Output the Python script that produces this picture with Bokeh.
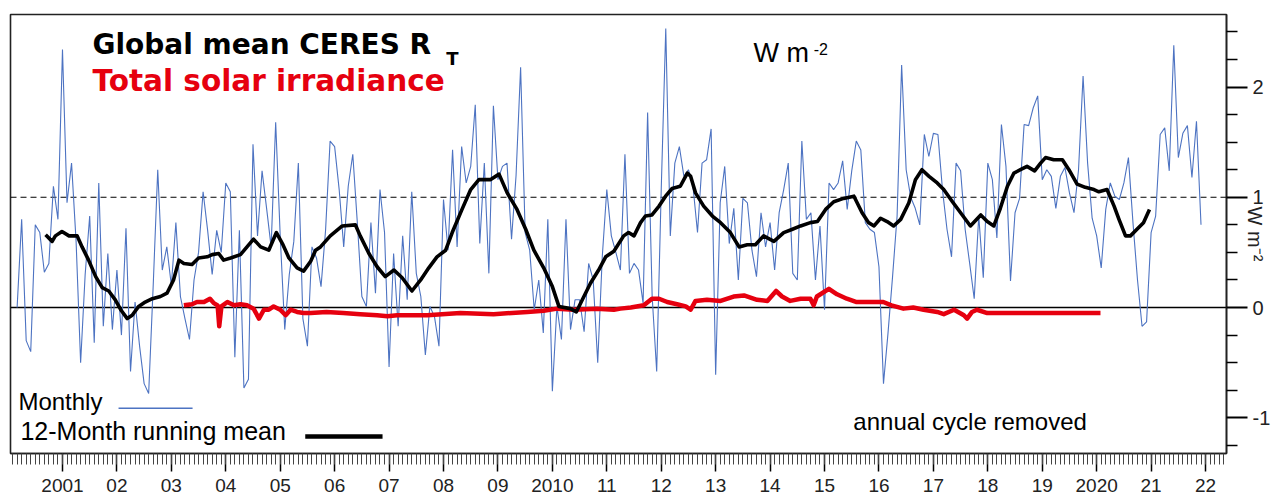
from bokeh.plotting import figure
from bokeh.models import Range1d, FixedTicker, Span, Label
from bokeh.embed import file_html
from bokeh.resources import INLINE

# ---------------- data ----------------
# Monthly global-mean CERES net radiation anomaly, Mar 2000 .. Dec 2021 (W m-2)
monthly = [
    0.00, 0.80, -0.30, -0.40, 0.75, 0.68, 0.32, 0.40, 1.10, 0.80,
    2.34, 0.95, 1.31, 0.60, -0.50, 0.30, 0.83, -0.32, 1.13, -0.17,
    0.49, -0.20, 0.34, -0.25, 0.72, -0.58, 0.05, -0.35, -0.69, -0.78,
    0.20, 1.25, 0.34, 0.55, 0.20, 0.77, 0.10, -0.10, -0.29, 0.25,
    0.50, 1.05, 0.70, 0.30, 0.70, 0.50, 1.13, 1.05, -0.45, 0.70,
    -0.73, -0.65, 1.48, 0.65, 1.24, 0.90, 0.55, 1.68, 0.65, -0.20,
    0.30, 0.60, 1.31, -0.10, -0.35, 0.55, 0.45, 0.19, 0.70, 1.51,
    1.46, 1.07, 0.55, 1.10, 1.39, 0.77, 0.10, 0.01, 0.77, 0.13,
    1.07, 0.68, -0.54, 0.49, -0.17, 0.65, 0.07, 1.05, 0.31, 0.10,
    -0.43, 0.01, -0.08, -0.35, 0.98, 0.52, 1.43, 0.55, 1.46, 1.13,
    1.28, 1.84, 0.58, 1.31, 0.31, 1.83, 1.16, 1.28, 1.31, 0.62,
    1.20, 2.18, 0.68, 0.52, -0.02, 0.25, -0.23, 0.80, -0.76, 0.01,
    -0.29, 0.80, -0.20, 0.07, 0.07, -0.22, 0.40, 0.25, -0.50, 0.46,
    1.07, 0.65, 0.50, 0.34, 1.39, 0.31, 0.40, 0.34, 0.04, 1.77,
    0.10, -0.58, 1.07, 2.53, 0.65, 1.31, 1.46, 1.19, 1.25, 1.10,
    0.68, 1.31, 1.34, 1.62, -0.61, 0.95, 1.28, 0.58, 0.90, 0.25,
    0.99, 0.95, 0.52, 0.28, 0.86, 0.55, 0.77, 0.34, 0.86, 1.07,
    1.31, 0.31, 0.25, 1.51, 0.80, 0.86, 0.25, 0.74, -0.02, 1.13,
    1.07, 1.13, 1.33, 0.89, 1.24, 1.51, 1.43, 0.77, 0.71, 0.68,
    0.37, -0.69, -0.23, 0.28, 0.83, 2.20, 1.25, 1.00, 0.90, 0.75,
    1.57, 1.37, 1.58, 1.57, 1.07, 0.71, 0.46, 1.31, 1.24, 0.71,
    0.40, 0.08, 0.83, 0.27, 1.31, 1.16, 0.63, 1.66, 1.28, 0.24,
    0.86, 0.99, 1.66, 1.65, 1.81, 1.92, 1.16, 1.25, 1.19, 0.90,
    1.19, 1.27, 1.04, 0.86, 1.25, 2.10, 1.31, 0.81, 0.65, 0.36,
    0.89, 1.13, 1.01, 0.98, 1.13, 1.36, 0.77, 0.25, -0.17, -0.13,
    0.68, 0.83, 1.57, 1.63, 1.24, 2.38, 1.36, 1.58, 1.65, 1.18,
    1.69, 0.75,
]
first_year, first_month = 2000, 3
months = [first_year + (first_month - 1 + i) / 12 for i in range(len(monthly))]

# 12-month running mean (decimal year, W m-2)
rm_years = [
    2000.69, 2000.81, 2000.87, 2000.99, 2001.12, 2001.27, 2001.36, 2001.48, 2001.61, 2001.73,
    2001.85, 2001.97, 2002.07, 2002.19, 2002.28, 2002.40, 2002.52, 2002.65, 2002.80, 2002.92,
    2003.04, 2003.14, 2003.23, 2003.38, 2003.50, 2003.66, 2003.75, 2003.87, 2003.96, 2004.09,
    2004.27, 2004.39, 2004.51, 2004.64, 2004.79, 2004.93, 2005.04, 2005.16, 2005.31, 2005.43,
    2005.56, 2005.65, 2005.74, 2005.92, 2006.14, 2006.38, 2006.47, 2006.63, 2006.78, 2006.93,
    2007.09, 2007.24, 2007.42, 2007.58, 2007.73, 2007.88, 2008.04, 2008.16, 2008.34, 2008.50,
    2008.65, 2008.86, 2009.02, 2009.17, 2009.35, 2009.51, 2009.66, 2009.84, 2010.00, 2010.12,
    2010.33, 2010.44, 2010.55, 2010.70, 2010.85, 2010.98, 2011.13, 2011.31, 2011.40, 2011.50,
    2011.62, 2011.71, 2011.83, 2011.96, 2012.08, 2012.20, 2012.35, 2012.48, 2012.54, 2012.63,
    2012.78, 2012.94, 2013.09, 2013.27, 2013.43, 2013.58, 2013.73, 2013.88, 2014.07, 2014.25,
    2014.41, 2014.56, 2014.74, 2014.87, 2015.02, 2015.17, 2015.35, 2015.54, 2015.69, 2015.81,
    2015.91, 2016.03, 2016.15, 2016.27, 2016.40, 2016.55, 2016.67, 2016.79, 2016.92, 2017.07,
    2017.19, 2017.35, 2017.50, 2017.68, 2017.87, 2017.99, 2018.11, 2018.23, 2018.36, 2018.48,
    2018.60, 2018.72, 2018.86, 2018.97, 2019.06, 2019.21, 2019.37, 2019.49, 2019.64, 2019.79,
    2019.95, 2020.04, 2020.19, 2020.32, 2020.41, 2020.53, 2020.62, 2020.74, 2020.86, 2020.97,
]
rm_values = [
    0.66, 0.60, 0.65, 0.69, 0.65, 0.65, 0.55, 0.43, 0.28, 0.18,
    0.15, 0.07, -0.02, -0.10, -0.07, 0.01, 0.05, 0.08, 0.10, 0.13,
    0.25, 0.43, 0.40, 0.39, 0.45, 0.46, 0.48, 0.49, 0.43, 0.45,
    0.48, 0.55, 0.62, 0.55, 0.52, 0.68, 0.58, 0.45, 0.36, 0.33,
    0.42, 0.52, 0.55, 0.65, 0.74, 0.75, 0.65, 0.49, 0.37, 0.28,
    0.34, 0.27, 0.15, 0.25, 0.36, 0.46, 0.52, 0.68, 0.89, 1.07,
    1.16, 1.16, 1.21, 1.04, 0.89, 0.71, 0.52, 0.36, 0.19, 0.01,
    -0.01, -0.04, 0.07, 0.22, 0.34, 0.46, 0.51, 0.65, 0.68, 0.65,
    0.77, 0.83, 0.84, 0.92, 1.01, 1.08, 1.10, 1.22, 1.19, 1.04,
    0.92, 0.83, 0.77, 0.68, 0.55, 0.57, 0.57, 0.65, 0.60, 0.68,
    0.71, 0.74, 0.77, 0.78, 0.89, 0.96, 0.99, 1.01, 0.86, 0.77,
    0.74, 0.81, 0.78, 0.74, 0.80, 0.95, 1.16, 1.25, 1.19, 1.13,
    1.07, 0.96, 0.86, 0.74, 0.84, 0.78, 0.74, 0.90, 1.10, 1.22,
    1.25, 1.28, 1.24, 1.31, 1.36, 1.34, 1.34, 1.25, 1.12, 1.09,
    1.07, 1.05, 1.07, 0.92, 0.80, 0.65, 0.65, 0.71, 0.77, 0.89,
]

# Total solar irradiance anomaly (decimal year, W m-2)
tsi_years = [
    2003.23, 2003.38, 2003.47, 2003.60, 2003.71, 2003.78, 2003.85, 2003.88, 2003.92, 2004.03,
    2004.15, 2004.27, 2004.39, 2004.51, 2004.61, 2004.70, 2004.79, 2004.88, 2005.00, 2005.10,
    2005.19, 2005.31, 2005.43, 2005.56, 2005.85, 2006.16, 2006.47, 2006.78, 2006.97, 2007.15,
    2007.70, 2008.31, 2008.92, 2009.54, 2009.84, 2010.09, 2010.39, 2010.82, 2011.13, 2011.25,
    2011.44, 2011.68, 2011.83, 2011.96, 2012.11, 2012.29, 2012.45, 2012.54, 2012.63, 2012.84,
    2013.09, 2013.33, 2013.52, 2013.76, 2013.95, 2014.11, 2014.22, 2014.37, 2014.56, 2014.74,
    2014.80, 2014.86, 2015.08, 2015.23, 2015.41, 2015.59, 2015.83, 2016.08, 2016.23, 2016.45,
    2016.63, 2016.82, 2017.07, 2017.19, 2017.38, 2017.56, 2017.62, 2017.71, 2017.80, 2017.99,
    2018.42, 2018.85, 2019.33, 2019.76, 2020.07,
]
tsi_values = [
    0.02, 0.03, 0.05, 0.05, 0.08, 0.04, 0.02, -0.17, 0.01, 0.05,
    0.02, 0.03, 0.02, -0.01, -0.10, -0.02, -0.02, 0.01, -0.02, -0.07,
    -0.02, -0.04, -0.05, -0.05, -0.04, -0.05, -0.06, -0.07, -0.08, -0.07,
    -0.07, -0.05, -0.06, -0.04, -0.03, -0.01, -0.02, -0.01, -0.02, -0.01,
    0.00, 0.02, 0.08, 0.08, 0.05, 0.03, 0.01, -0.02, 0.06, 0.07,
    0.06, 0.10, 0.11, 0.07, 0.06, 0.15, 0.10, 0.06, 0.08, 0.08,
    0.02, 0.10, 0.17, 0.12, 0.08, 0.05, 0.05, 0.05, 0.02, -0.01,
    0.00, -0.02, -0.04, -0.06, -0.02, -0.07, -0.10, -0.04, -0.02, -0.05,
    -0.05, -0.05, -0.05, -0.05, -0.05,
]

year_ticks = list(range(2001, 2023))
year_labels = ["2001", "02", "03", "04", "05", "06", "07", "08", "09", "2010",
               "11", "12", "13", "14", "15", "16", "17", "18", "19", "2020", "21", "22"]
value_ticks = [-1, 0, 1, 2]
value_labels = ["-1", "0", "1", "2"]

# ---------------- figure ----------------
BLUE = "#4d73c2"
RED = "#e6000f"

p = figure(width=1271, height=494,
           x_range=Range1d(2000.045, 2022.385), y_range=Range1d(-1.324, 2.658),
           output_backend="svg", toolbar_location=None,
           x_axis_location="below", y_axis_location="right",
           min_border_left=10, min_border_top=14, min_border_right=45, min_border_bottom=0)
p.grid.visible = False
p.background_fill_color = "white"
p.border_fill_color = "white"
p.outline_line_color = "#222222"
p.outline_line_width = 1.6

# x axis
xa = p.xaxis[0]
xa.ticker = FixedTicker(ticks=year_ticks,
                        minor_ticks=[y0 + m / 12 for y0 in range(2000, 2023) for m in range(12)])
xa.major_label_overrides = {t: s for t, s in zip(year_ticks, year_labels)}
xa.major_tick_out = 18
xa.major_tick_in = 0
xa.minor_tick_out = 11
xa.minor_tick_in = 0
xa.major_tick_line_width = 1.5
xa.minor_tick_line_color = "#444444"
xa.axis_line_width = 1.6
xa.axis_line_color = "#222222"
xa.major_label_text_font = "Liberation Sans"
xa.major_label_text_font_size = "19px"
xa.major_label_text_color = "#222222"
xa.major_label_standoff = 7

# right y axis (its title sits in the tick-label column, as in the original)
ya = p.yaxis[0]
ya.ticker = FixedTicker(ticks=value_ticks,
                        minor_ticks=[-1.25, -0.75, -0.5, -0.25, 0.25, 0.5, 0.75,
                                     1.25, 1.5, 1.75, 2.25, 2.5])
ya.major_label_overrides = {t: s for t, s in zip(value_ticks, value_labels)}
ya.major_tick_out = 21
ya.major_tick_in = 0
ya.minor_tick_out = 11
ya.minor_tick_in = 0
ya.major_tick_line_width = 2
ya.minor_tick_line_width = 1.5
ya.axis_line_width = 1.6
ya.axis_line_color = "#222222"
ya.major_label_text_font = "Liberation Sans"
ya.major_label_text_font_size = "20px"
ya.major_label_text_color = "#222222"
ya.major_label_standoff = 5
ya.axis_label = "W m⁻²"
ya.axis_label_text_font = "Liberation Sans"
ya.axis_label_text_font_size = "20px"
ya.axis_label_text_font_style = "normal"
ya.axis_label_text_color = "#222222"
ya.axis_label_standoff = -29

# reference lines
p.add_layout(Span(location=0, dimension="width", line_color="black", line_width=1.5, level="underlay"))
p.add_layout(Span(location=1, dimension="width", line_color="black", line_width=1.1,
                  line_dash="6 4", level="underlay"))

# data
p.line(months, monthly, line_color=BLUE, line_width=1.1)
p.line(tsi_years, tsi_values, line_color=RED, line_width=4.5, line_join="round")
p.line(rm_years, rm_values, line_color="black", line_width=3.6, line_join="round")

# legend keys
p.segment(x0=[2002.03], y0=[-0.913], x1=[2003.39], y1=[-0.913], line_color=BLUE, line_width=1.6)
p.segment(x0=[2005.46], y0=[-1.169], x1=[2006.88], y1=[-1.169], line_color="black", line_width=4.5)

def lab(x, y, text, size, color="black", font="Liberation Sans", style="normal", **kw):
    p.add_layout(Label(x=x, y=y, text=text, text_font=font, text_font_size=size,
                       text_color=color, text_font_style=style, **kw))

lab(2001.551, 2.237, "Global mean CERES R", "28px", font="DejaVu Sans", style="bold")
lab(2008.05, 2.160, "T", "18px", font="DejaVu Sans", style="bold")
lab(2001.551, 1.900, "Total solar irradiance", "29.5px", color=RED, font="DejaVu Sans", style="bold")
lab(2013.695, 2.174, "W m", "27px")
lab(2014.80, 2.295, "-2", "16px")
lab(2000.19, -0.977, "Monthly", "24px")
lab(2000.228, -1.251, "12-Month running mean", "25px")
lab(2015.53, -1.16, "annual cycle removed", "24px")

open("out.html", "w").write(file_html(p, INLINE))
